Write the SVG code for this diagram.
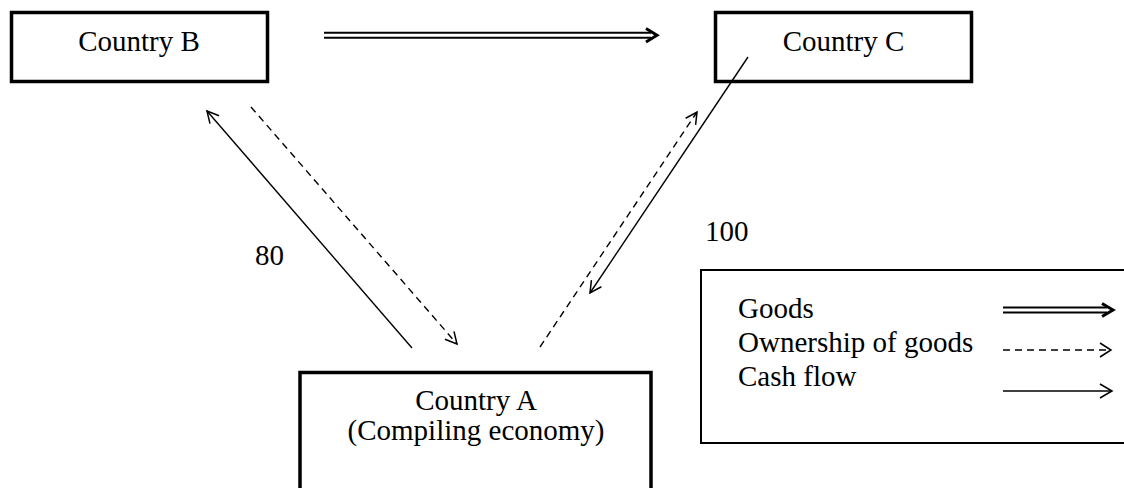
<svg xmlns="http://www.w3.org/2000/svg" width="1124" height="488" viewBox="0 0 1124 488">
<style>
text{font-family:"Liberation Serif","Times New Roman",serif;font-size:29px;fill:#000}
.box{fill:#fff;stroke:#000;stroke-width:3.5}
.leg{fill:#fff;stroke:#000;stroke-width:2}
.solid{fill:none;stroke:#000;stroke-width:1.4}
.dash{fill:none;stroke:#000;stroke-width:1.4;stroke-dasharray:7 5}
.dblo{fill:none;stroke:#000;stroke-width:7}
.dbli{fill:none;stroke:#fff;stroke-width:3}
.head{fill:none;stroke:#000;stroke-width:1.5}
.ghead{fill:none;stroke:#000;stroke-width:3;stroke-linejoin:miter}
</style>
<defs>
<marker id="arr" markerUnits="userSpaceOnUse" viewBox="0 0 14 14" markerWidth="14" markerHeight="14" refX="12.5" refY="7" orient="auto">
<path d="M1,1 L12.5,7 L1,13" fill="none" stroke="#000" stroke-width="1.5"/>
</marker>
</defs>
<g id="node-B">
<rect class="box" x="11.5" y="12.5" width="256" height="69"/>
<text x="139" y="51" text-anchor="middle">Country B</text>
</g>
<g id="node-C">
<rect class="box" x="715.5" y="12.5" width="256" height="69"/>
<text x="843.5" y="51" text-anchor="middle">Country C</text>
</g>
<g id="node-A">
<rect class="box" x="300" y="372.5" width="351" height="130"/>
<text x="476" y="410" text-anchor="middle">Country A</text>
<text x="476" y="440" text-anchor="middle">(Compiling economy)</text>
</g>
<g id="connectors">
<line class="dblo" x1="324" y1="35.2" x2="651" y2="35.2"/>
<line class="dbli" x1="324" y1="35.2" x2="652" y2="35.2"/>
<path class="ghead" d="M646,28.5 L657,35.2 L646,42"/>
<line class="solid" x1="412" y1="348" x2="207" y2="111" marker-end="url(#arr)"/>
<line class="dash" x1="251" y1="107" x2="457" y2="344" marker-end="url(#arr)"/>
<line class="solid" x1="748" y1="57" x2="590" y2="293" marker-end="url(#arr)"/>
<line class="dash" x1="540" y1="347" x2="697" y2="112" marker-end="url(#arr)"/>
</g>
<g id="label-80"><text x="255" y="265">80</text></g>
<g id="label-100"><text x="705" y="241">100</text></g>
<g id="legend">
<rect class="leg" x="701" y="270" width="430" height="173"/>
<text x="738" y="318">Goods</text>
<text x="738" y="352">Ownership of goods</text>
<text x="738" y="386">Cash flow</text>
<line class="dblo" x1="1003" y1="310" x2="1107" y2="310"/>
<line class="dbli" x1="1003" y1="310" x2="1108" y2="310"/>
<path class="ghead" d="M1102,303.5 L1113,310 L1102,316.5"/>
<line class="dash" x1="1003" y1="350" x2="1110" y2="350" stroke-dasharray="6 4.5"/>
<path class="head" d="M1100,343 L1111,350 L1100,357"/>
<line class="solid" x1="1003" y1="391" x2="1111" y2="391"/>
<path class="head" d="M1100,384 L1112,391 L1100,398"/>
</g>
</svg>
